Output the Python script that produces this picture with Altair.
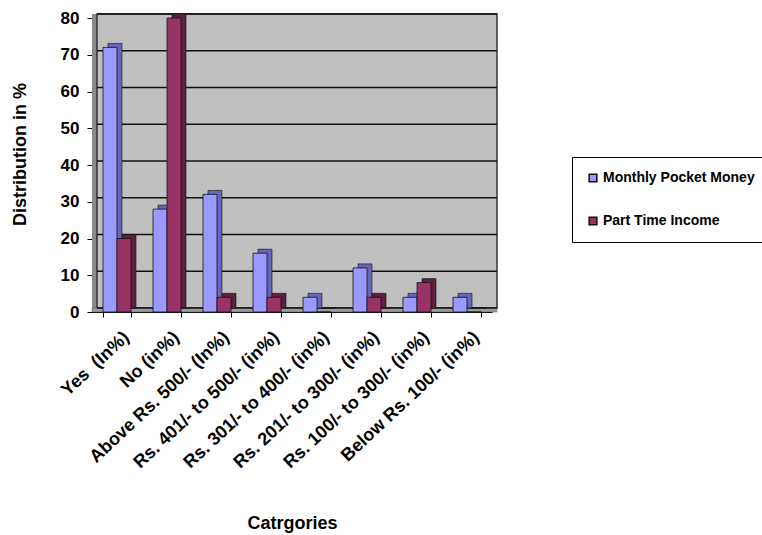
import altair as alt
import pandas as pd

categories = ["Yes\u00a0 (In%)", "No (in%)", "Above Rs. 500/- (In%)", "Rs. 401/- to 500/- (in%)",
              "Rs. 301/- to 400/- (in%)", "Rs. 201/- to 300/- (in%)", "Rs. 100/- to 300/- (in%)",
              "Below Rs. 100/- (in%)"]
series_names = ["Monthly Pocket Money", "Part Time Income"]
pocket_money = [72, 28, 32, 16, 4, 12, 4, 4]
part_time = [20, 80, 4, 4, 0, 4, 8, 0]
front_colors = ["#9999FF", "#993366"]
side_colors = ["#6666B8", "#5E1F40"]
grid_values = [0, 10, 20, 30, 40, 50, 60, 70, 80]

rows = []
for i, c in enumerate(categories):
    rows.append({"cat": c, "series": series_names[0], "val": pocket_money[i], "dark": side_colors[0]})
    rows.append({"cat": c, "series": series_names[1], "val": part_time[i], "dark": side_colors[1]})
df = pd.DataFrame(rows)

W, H = 400, 294
FONT = "Liberation Sans"
yscale = alt.Scale(domain=[0, 80], nice=False)
xscale = alt.Scale(domain=categories, paddingInner=0.44, paddingOuter=0.22)

xaxis = alt.Axis(labelAngle=-43, labelAlign="right", labelBaseline="top",
                 labelPadding=11, labelOffset=3, tickBand="extent", tickSize=5,
                 labelFontSize=18, labelFont=FONT, labelFontWeight="bold",
                 labelColor="black", domainColor="black", tickColor="black",
                 titleFontSize=18, titleFont=FONT, titleFontWeight="bold", titleColor="black",
                 titleX=W / 2, titleY=211, titleBaseline="middle", titleAlign="center",
                 labelLimit=400, labelOverlap=False)
yaxis = alt.Axis(values=grid_values, tickSize=5, labelPadding=8, grid=False,
                 labelFontSize=17, labelFont=FONT, labelFontWeight="bold",
                 labelColor="black", domainColor="black", tickColor="black",
                 titleFontSize=18, titleFont=FONT, titleFontWeight="bold", titleColor="black",
                 titleX=-72, titleY=136, titleAngle=-90,
                 titleAlign="center", titleBaseline="middle")
XT = "Catrgories"
YT = "Distribution in %"

one = alt.Data(values=[{"a": 1}])

left_wall = alt.Chart(one).mark_rect(color="#8a8a8a").encode(
    x=alt.value(0), x2=alt.value(5), y=alt.value(-4), y2=alt.value(H))
back_wall = alt.Chart(one).mark_rect(fill="#C0C0C0", stroke="#333333", strokeWidth=1.5).encode(
    x=alt.value(5), x2=alt.value(W + 5), y=alt.value(-4), y2=alt.value(H - 4))
floor = alt.Chart(one).mark_rect(fill="#9c9c9c", stroke="#555555", strokeWidth=0.5).encode(
    x=alt.value(0), x2=alt.value(W + 5), y=alt.value(H - 4), y2=alt.value(H))

grid = alt.Chart(pd.DataFrame({"val": grid_values})).mark_rule(
    color="#111111", strokeWidth=1.5, yOffset=-4).encode(
    y=alt.Y("val:Q", scale=yscale, axis=yaxis, title=YT),
    x=alt.value(5), x2=alt.value(W + 5))

side = alt.Chart(df).mark_bar(yOffset=-4, y2Offset=-4, stroke="#111111",
                              strokeWidth=0.6).encode(
    x=alt.X("cat:N", scale=xscale, sort=categories, axis=xaxis, title=XT),
    xOffset=alt.XOffset("series:N", sort=series_names,
                        scale=alt.Scale(domain=series_names, range=[5, 33],
                                        paddingInner=0, paddingOuter=0)),
    y=alt.Y("val:Q", scale=yscale, axis=yaxis, title=YT),
    color=alt.Color("dark:N", scale=None),
)

front = alt.Chart(df).mark_bar(stroke="#111111", strokeWidth=0.8).encode(
    x=alt.X("cat:N", scale=xscale, sort=categories, axis=xaxis, title=XT),
    xOffset=alt.XOffset("series:N", sort=series_names,
                        scale=alt.Scale(domain=series_names, paddingInner=0, paddingOuter=0)),
    y=alt.Y("val:Q", scale=yscale, axis=yaxis, title=YT),
    color=alt.Color("series:N", sort=series_names,
                    scale=alt.Scale(domain=series_names, range=front_colors),
                    legend=alt.Legend(title=None, orient="none", legendX=480, legendY=139,
                                      fillColor="white", strokeColor="black", padding=14,
                                      rowPadding=29, symbolType="square", symbolSize=60,
                                      symbolStrokeColor="black", symbolStrokeWidth=1.5,
                                      labelOffset=3,
                                      labelFontSize=14, labelFont=FONT, labelFontWeight="bold",
                                      labelColor="black", labelLimit=300)),
)

chart = alt.layer(left_wall, back_wall, floor, grid, side, front).resolve_scale(
    xOffset="independent"
).properties(
    width=W, height=H,
    autosize=alt.AutoSizeParams(type="none"),
    padding={"left": 92, "top": 18, "right": 762 - 92 - W, "bottom": 535 - 18 - H},
    background="white",
).configure_view(stroke=None)

chart.save("out.html", embed_options={"renderer": "svg", "actions": False})
